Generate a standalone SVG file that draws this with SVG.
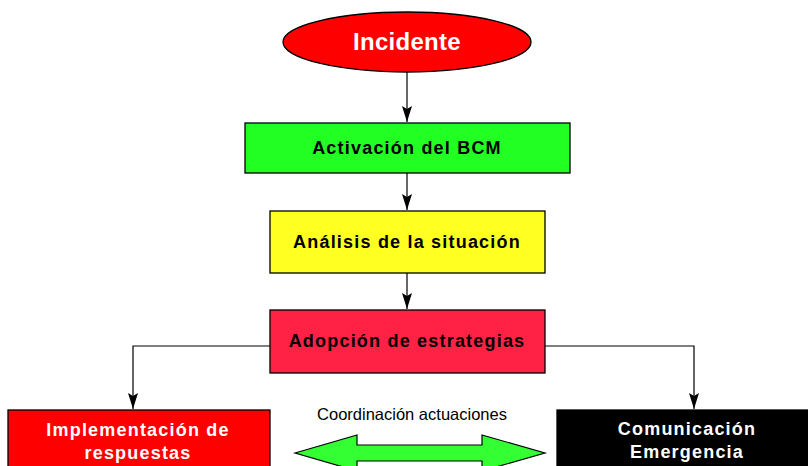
<svg xmlns="http://www.w3.org/2000/svg" width="808" height="466" viewBox="0 0 808 466">
<style>
.box{stroke:#000;stroke-width:1.3}
.t{font-family:"Liberation Sans",Arial,sans-serif;font-weight:bold;text-anchor:middle;font-size:18px;letter-spacing:1.2px}
.w{fill:#fff}
.k{fill:#000}
.c{fill:none;stroke:#000;stroke-width:1.2}
</style>
<defs>
<marker id="ah" markerWidth="16" markerHeight="10" refX="16" refY="5" orient="auto" markerUnits="userSpaceOnUse" viewBox="0 0 16 10">
<path d="M0,0 L16,5 L0,10 L3,5 Z" fill="#000"/>
</marker>
</defs>
<rect width="808" height="466" fill="#fff"/>
<g id="connectors">
<path class="c" d="M407,72 V122" marker-end="url(#ah)"/>
<path class="c" d="M407,173 V210" marker-end="url(#ah)"/>
<path class="c" d="M407,273 V309" marker-end="url(#ah)"/>
<path class="c" d="M270,346 H133 V409" marker-end="url(#ah)"/>
<path class="c" d="M545,346 H694 V409" marker-end="url(#ah)"/>
</g>
<g id="incidente">
<ellipse class="box" cx="407" cy="42" rx="124" ry="30" fill="#FF0000"/>
<text class="t w" x="407" y="50" style="font-size:24px;letter-spacing:0.3px">Incidente</text>
</g>
<g id="activacion">
<rect class="box" x="245" y="123" width="325" height="50" fill="#22FF22"/>
<text class="t k" x="407" y="154">Activación del BCM</text>
</g>
<g id="analisis">
<rect class="box" x="270" y="211" width="275" height="62" fill="#FFFF22"/>
<text class="t k" x="407" y="248">Análisis de la situación</text>
</g>
<g id="adopcion">
<rect class="box" x="270" y="310" width="275" height="63" fill="#FF2244"/>
<text class="t k" x="407" y="347">Adopción de estrategias</text>
</g>
<g id="implementacion">
<rect class="box" x="8" y="410" width="262" height="70" fill="#FF0000"/>
<text class="t w" x="138" y="436">Implementación de</text>
<text class="t w" x="138" y="459">respuestas</text>
</g>
<g id="comunicacion">
<rect class="box" x="557" y="410" width="260" height="70" fill="#000"/>
<text class="t w" x="687" y="435">Comunicación</text>
<text class="t w" x="687" y="458">Emergencia</text>
</g>
<g id="coordinacion">
<text x="412" y="420" style="font-family:'Liberation Sans',Arial,sans-serif;font-size:16.5px;text-anchor:middle" fill="#000">Coordinación actuaciones</text>
<path d="M295,453 L357,435 L357,445 L482,445 L482,435 L545,453 L482,471 L482,461 L357,461 L357,471 Z" fill="#33FF33" stroke="#000" stroke-width="1.2"/>
</g>
</svg>
